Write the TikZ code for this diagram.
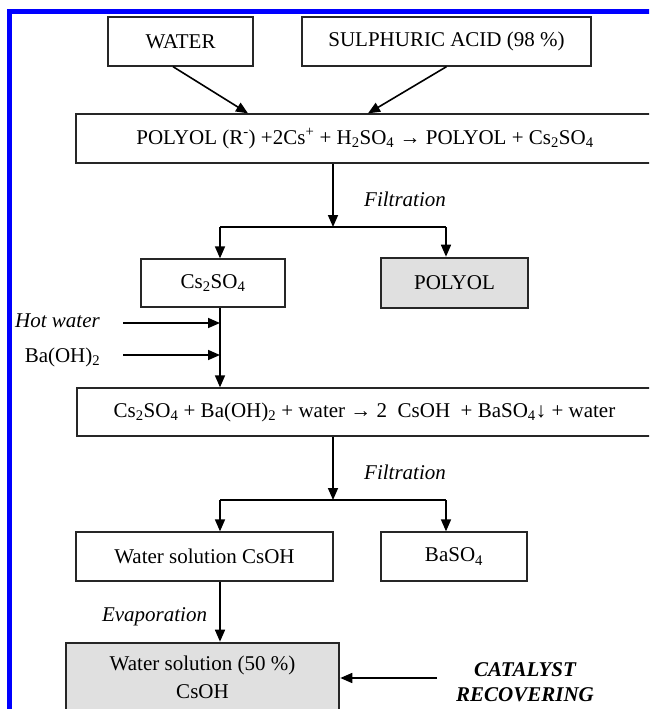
\documentclass[tikz,border=0pt]{standalone}
\usepackage{fontspec}
\setmainfont{Liberation Serif}
\usetikzlibrary{arrows.meta,calc}
\begin{document}
\begin{tikzpicture}[x=1pt,y=-1pt,
  box/.style={draw=black!85,line width=1.3pt,minimum height=49pt,inner sep=0pt,font=\fontsize{21}{25}\selectfont},
  gbox/.style={box,fill=black!12,line width=2.6pt},
  arr/.style={line width=1.6pt,-{Triangle[length=12pt,width=10pt]}},
  ln/.style={line width=1.6pt},
  lbl/.style={inner sep=0pt,font=\fontsize{21}{25}\selectfont},
  ilbl/.style={lbl,font=\fontsize{21}{25}\selectfont\itshape},
  blbl/.style={lbl,align=center,font=\fontsize{21}{25}\selectfont\bfseries\itshape}]
\useasboundingbox (0,0) rectangle (649,709);
\clip (0,0) rectangle (649,709);
\fill[white] (0,0) rectangle (649,709);
\draw[blue,line width=5pt] (9.5,12) rectangle (720,780);

% boxes
\node[box,minimum width=145pt] (water) at (180.5,41.5) {WATER};
\node[box,minimum width=289pt] (sulph) at (446.5,41.5) {SULPHURIC ACID (98 \%)};
\node[box,minimum width=578pt] (eq1) at (365,138.5)
  {POLYOL (R\textsuperscript{-}) +2Cs\textsuperscript{+} + H\textsubscript{2}SO\textsubscript{4} → POLYOL + Cs\textsubscript{2}SO\textsubscript{4}};
\node[box,minimum width=144pt,minimum height=48pt] (cs) at (213,283) {Cs\textsubscript{2}SO\textsubscript{4}};
\node[gbox,minimum width=147pt,minimum height=50pt] (polyol) at (454.5,283) {POLYOL};
\node[box,minimum width=575pt,minimum height=48pt] (eq2) at (364.5,412)
  {Cs\textsubscript{2}SO\textsubscript{4} + Ba(OH)\textsubscript{2} + water → 2\ \ CsOH\ \ + BaSO\textsubscript{4}↓ + water};
\node[box,minimum width=257pt] (wsol) at (204.5,556.5) {Water solution CsOH};
\node[box,minimum width=146pt] (baso) at (454,556.5) {BaSO\textsubscript{4}};
\node[gbox,minimum width=273pt,minimum height=69pt,align=center,font=\fontsize{21}{28}\selectfont] (final) at (202.5,677.5)
  {Water solution (50 \%)\\CsOH};

% labels
\node[ilbl] (filt1) at (405,199) {Filtration};
\node[ilbl] (filt2) at (405,472) {Filtration};
\node[ilbl] (hot) at (57.5,321) {Hot water};
\node[lbl] (baoh) at (62.5,357) {Ba(OH)\textsubscript{2}};
\node[ilbl] (evap) at (154.5,617) {Evaporation};
\node[blbl] (cat) at (525,682.5) {CATALYST\\RECOVERING};

% coordinates
\coordinate (s1) at (333,227);
\coordinate (b1L) at (220,227);
\coordinate (b1R) at (446,227);
\coordinate (s2) at (333,500);
\coordinate (b2L) at (220,500);
\coordinate (b2R) at (446,500);
\coordinate (hw) at (123,323);
\coordinate (bw) at (123,355);
\coordinate (cr) at (437,678);

% connectors
\draw[arr] ([xshift=-7.5pt]water.south) -- ($(eq1.north)+(-117,0)$);
\draw[arr] (sulph.south) -- ($(eq1.north)+(3,0)$);
\draw[arr] (eq1.south -| s1) -- (s1);
\draw[ln] (b1L) -- (b1R);
\draw[arr] (b1L) -- (b1L |- cs.north);
\draw[arr] (b1R) -- (b1R |- polyol.north);
\draw[arr] (b1L |- cs.south) -- (b1L |- eq2.north);
\draw[arr] (hw) -- (hw -| b1L);
\draw[arr] (bw) -- (bw -| b1L);
\draw[arr] (eq2.south -| s2) -- (s2);
\draw[ln] (b2L) -- (b2R);
\draw[arr] (b2L) -- (b2L |- wsol.north);
\draw[arr] (b2R) -- (b2R |- baso.north);
\draw[arr] (b2L |- wsol.south) -- (b2L |- final.north);
\draw[arr] (cr) -- (cr -| final.east);
\end{tikzpicture}
\end{document}
